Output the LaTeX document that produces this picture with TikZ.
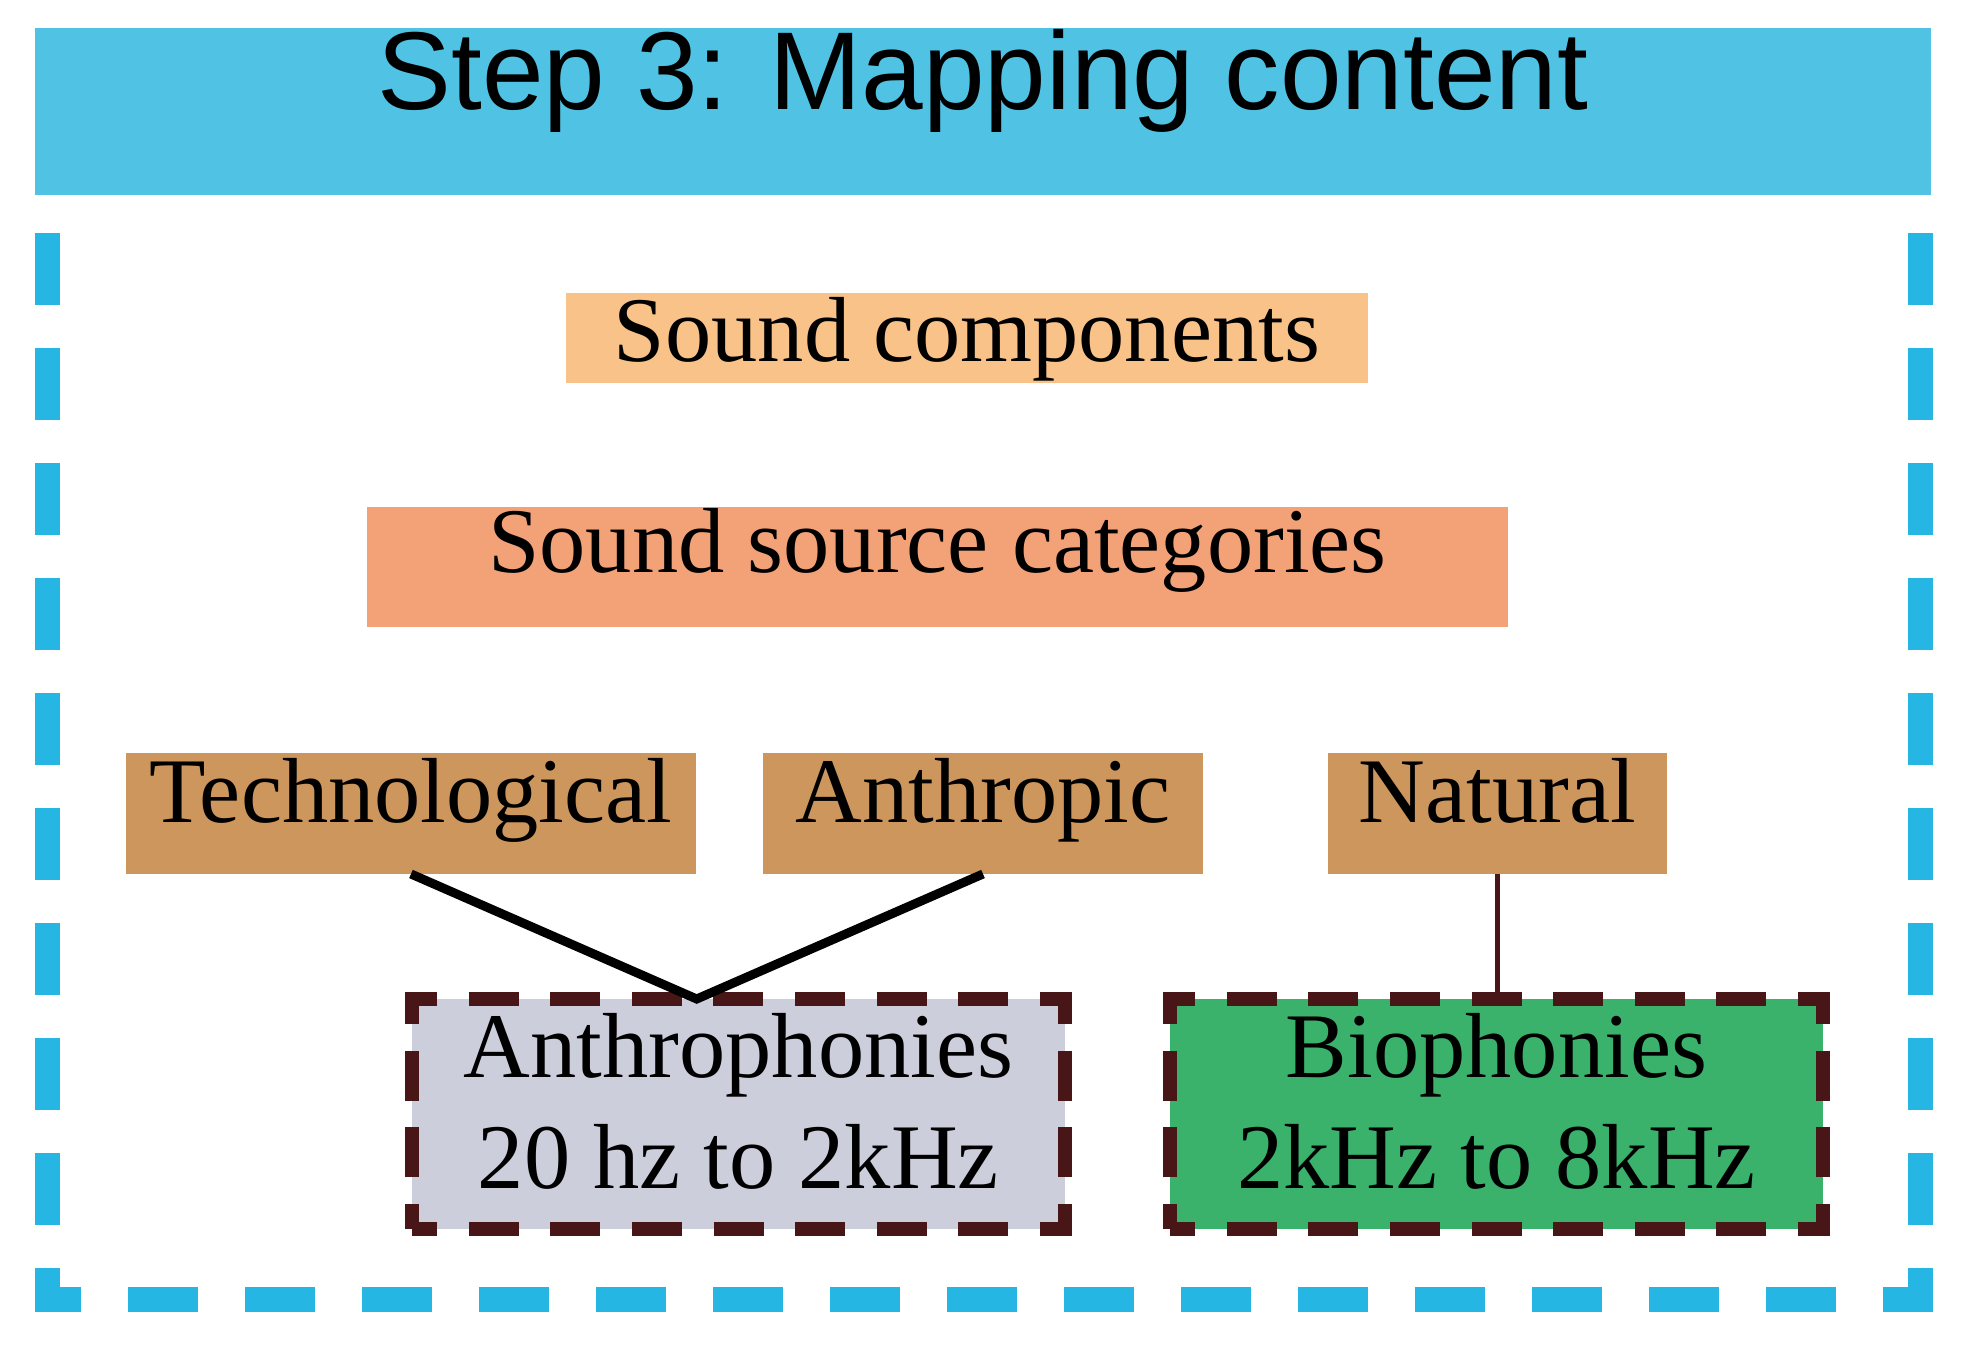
\documentclass[tikz,border=0pt]{standalone}
\usepackage{fontspec}
\setmainfont{Liberation Serif}
\newfontfamily\titlefont{Liberation Sans}
\usetikzlibrary{calc}
\definecolor{titleblue}{RGB}{80,195,228}
\definecolor{framecol}{RGB}{38,182,228}
\definecolor{peach}{RGB}{248,194,136}
\definecolor{salmon}{RGB}{243,162,120}
\definecolor{tan}{RGB}{205,150,92}
\definecolor{lavender}{RGB}{205,206,220}
\definecolor{leafgreen}{RGB}{58,178,108}
\definecolor{maroon}{RGB}{72,22,22}
\begin{document}
\begin{tikzpicture}[
  box/.style={rectangle, inner sep=0pt, outer sep=0pt, anchor=center,
    font=\fontsize{26.3}{31.5}\selectfont},
  onebox/.style={box, text height=16pt, text depth=10.6pt, minimum height=1.21cm},
  catbox/.style={onebox, fill=tan},
  dbox/.style={box, align=center, minimum width=6.53cm, minimum height=2.30cm},
  dborder/.style={draw=maroon, line width=0.14cm, line join=miter,
    dash pattern=on 0.25cm off 0.267cm on 0.5cm off 0.267cm on 0.5cm off 0.267cm
      on 0.5cm off 0.316cm on 0.5cm off 0.316cm on 0.5cm off 0.316cm on 0.5cm off 0.316cm
      on 0.5cm off 0.316cm on 0.5cm off 0.316cm on 0.5cm off 0.316cm on 0.5cm off 0.316cm
      on 0.5cm off 0.267cm on 0.5cm off 0.267cm on 0.5cm off 0.267cm
      on 0.5cm off 0.316cm on 0.5cm off 0.316cm on 0.5cm off 0.316cm on 0.5cm off 0.316cm
      on 0.5cm off 0.316cm on 0.5cm off 0.316cm on 0.5cm off 0.316cm on 0.5cm off 0.316cm
      on 0.25cm off 2cm},
  frame/.style={framecol, line width=0.25cm},
  conn/.style={black, line width=0.09cm},
  natline/.style={maroon, line width=0.05cm}
]
\useasboundingbox (0,0) rectangle (19.76,-13.66);
\fill[white] (0,0) rectangle (19.76,-13.66);

% title bar
\node[box, fill=titleblue, minimum width=18.96cm, minimum height=1.67cm,
  font=\titlefont\fontsize{31.5}{36}\selectfont, text height=20pt, text depth=20.85pt]
  (title) at (9.83,-1.115) {Step 3: Mapping content};

% dashed frame (open at top)
\draw[frame, dash pattern=on 0.72cm off 0.43cm] (0.47,-2.33) -- (0.47,-13.125);
\draw[frame, dash pattern=on 0.72cm off 0.43cm] (19.20,-2.33) -- (19.20,-13.125);
\draw[frame, dash pattern=on 0.70cm off 0.47cm, dash phase=0.235cm]
  (0.345,-13.00) -- (19.325,-13.00);

% upper boxes
\node[box, fill=peach, minimum width=8.02cm, minimum height=0.90cm,
  text height=18pt, text depth=4.34pt] (comp) at (9.67,-3.38) {Sound components};
\node[box, fill=salmon, minimum width=11.41cm, minimum height=1.20cm,
  text height=14pt, text depth=10.6pt] (cat) at (9.375,-5.67) {Sound source categories};

% category boxes
\node[catbox, minimum width=5.70cm] (tech) at (4.11,-8.135) {Technological};
\node[catbox, minimum width=4.40cm] (anthr) at (9.83,-8.135) {Anthropic};
\node[catbox, minimum width=3.39cm] (nat) at (14.975,-8.135) {Natural};

% frequency boxes
\node[dbox, fill=lavender] (anthro) at (7.385,-11.14)
  {Anthrophonies\\20 hz to 2kHz\rule[-0.26cm]{0pt}{0pt}};
\node[dbox, fill=leafgreen] (bio) at (14.965,-11.14)
  {Biophonies\\2kHz to 8kHz\rule[-0.26cm]{0pt}{0pt}};
\draw[dborder] (anthro.south west) -- (anthro.north west) -- (anthro.north east)
  -- (anthro.south east) -- cycle;
\draw[dborder] (bio.south west) -- (bio.north west) -- (bio.north east)
  -- (bio.south east) -- cycle;

% connectors
\coordinate (meet) at ($(anthro.north west)!0.436!(anthro.north east)$);
\draw[conn] (tech.south) -- (meet) -- (anthr.south);
\draw[natline] (nat.south) -- (nat.south |- bio.north);
\end{tikzpicture}
\end{document}
